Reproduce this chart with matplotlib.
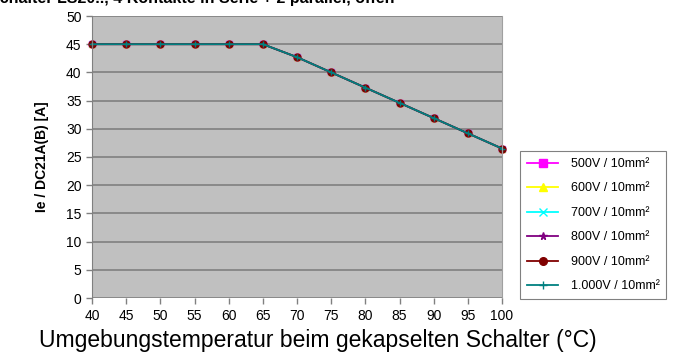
import matplotlib
matplotlib.use("Agg")
import matplotlib.pyplot as plt

plt.rcParams['font.family'] = ['Liberation Sans', 'DejaVu Sans']

temps = [40, 45, 50, 55, 60, 65, 70, 75, 80, 85, 90, 95, 100]
current = [45, 45, 45, 45, 45, 45, 42.7, 40, 37.3, 34.6, 31.9, 29.2, 26.5]

series_labels = ["500V / 10mm²", "600V / 10mm²", "700V / 10mm²",
                 "800V / 10mm²", "900V / 10mm²", "1.000V / 10mm²"]
series_colors = ["#ff00ff", "#ffff00", "#00ffff", "#800080", "#800000", "#008080"]
series_markers = ["s", "^", "x", "*", "o", "+"]

fig = plt.figure(figsize=(6.77, 3.56), dpi=100)
ax = fig.add_axes([92 / 677, 1 - 298 / 356, 410 / 677, 282 / 356])
ax.set_facecolor("#c0c0c0")

for label, color, marker in zip(series_labels, series_colors, series_markers):
    ax.plot(temps, current, color=color, marker=marker, markersize=5,
            markeredgewidth=1.0, linewidth=1.3, label=label, clip_on=False)

ax.set_xlim(40, 100)
ax.set_ylim(0, 50)
ax.set_xticks(range(40, 101, 5))
ax.set_yticks(range(0, 51, 5))
ax.grid(axis="y", color="#808080", linewidth=1.2)
ax.set_axisbelow(True)
for name in ["top", "bottom"]:
    ax.spines[name].set_visible(False)
ax.spines["left"].set_color("#808080")
ax.spines["right"].set_color("#a0a0a0")
ax.tick_params(colors="#808080", labelcolor="black", labelsize=10, length=4, width=1)
ax.tick_params(axis="x", pad=4)

ax.set_xlabel("Umgebungstemperatur beim gekapselten Schalter (°C)", fontsize=16.5)
ax.xaxis.set_label_coords(0.551, -0.11, transform=ax.transAxes)
ax.xaxis.label.set_va("top")
ax.set_ylabel("Ie / DC21A(B) [A]", fontsize=10, fontweight="bold", labelpad=12)

fig.text(192 / 677, 1.003, "Schalter LS20.., 4 Kontakte in Serie + 2 parallel, offen",
         ha="center", va="center", fontsize=11.5, fontweight="bold")

leg = fig.legend(loc="upper left", bbox_to_anchor=(520 / 677, 1 - 151 / 356),
                 fontsize=9, frameon=True, fancybox=False, edgecolor="#606060",
                 handlelength=2.5, labelspacing=1.0, borderpad=0.55, handletextpad=1.0,
                 borderaxespad=0, markerscale=1.1)
leg.get_frame().set_linewidth(0.8)

fig.savefig("out.png", dpi=100)
